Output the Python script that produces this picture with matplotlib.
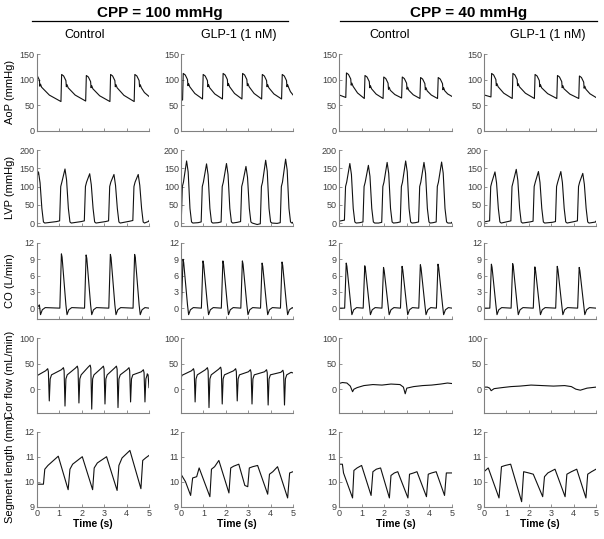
import numpy as np
import matplotlib
matplotlib.use("Agg")
import matplotlib.pyplot as plt

plt.rcParams['font.family'] = ['Liberation Sans', 'DejaVu Sans']

# ---- data ------------------------------------------------------------------
groups = ["CPP = 100 mmHg", "CPP = 40 mmHg"]
conditions = ["Control", "GLP-1 (1 nM)", "Control", "GLP-1 (1 nM)"]
row_labels = ["AoP (mmHg)", "LVP (mmHg)", "CO (L/min)", "Cor flow (mL/min)",
              "Segment length (mm)"]

# aortic upstroke time of each beat (s), per panel column
onsets = [
    [-0.10, 1.08, 2.18, 3.26, 4.34],
    [0.07, 0.96, 1.85, 2.72, 3.60, 4.49],
    [0.30, 1.12, 1.95, 2.77, 3.58, 4.36],
    [0.31, 1.26, 2.25, 3.25, 4.23],
]

# AoP: systolic peak and end-diastolic value before each upstroke
aop_peak = [[111, 110, 108, 110, 110],
            [112, 110, 112, 112, 110, 110],
            [113, 108, 105, 105, 104, 104],
            [112, 112, 110, 108, 107]]
aop_dia = [[112, 57, 58, 57, 57],
           [60, 62, 62, 62, 62, 62],
           [65, 63, 63, 64, 63, 63],
           [66, 63, 63, 63, 63]]
aop_start = [108, 60, 70, 70]
aop_end = [67, 70, 67, 65]

# LVP: systolic peak, end-diastolic value
lvp_peak = [[140, 148, 135, 133, 133],
            [170, 162, 163, 155, 172, 175],
            [163, 158, 166, 170, 166, 167],
            [140, 147, 141, 141, 136]]
lvp_edp = [[6, 6, 6, 6, 7],
           [2, 3, 3, 4, -2, 1],
           [8, 3, 2, 3, 3, 3],
           [6, 6, 5, 4, 6]]
lvp_start = [118, 2, 5, 3]
lvp_end = [7, 2, 2, 5]

# CO: peak of each ejection spike
co_peak = [[10.3, 10.0, 9.8, 9.9, 9.9],
           [9.0, 8.7, 8.7, 8.7, 8.3, 8.5],
           [8.3, 7.8, 7.5, 7.7, 8.0, 8.1],
           [8.1, 8.2, 7.6, 7.7, 7.5]]

# Coronary flow at CPP 100: systolic drop times, minima, pre-drop highs
cor_drop_t = [[0.52, 1.22, 1.84, 2.41, 3.00, 3.58, 4.14, 4.78],
              [0.59, 1.21, 1.80, 2.47, 3.13, 3.85, 4.58]]
cor_drop_min = [[-23, -33, -27, -39, -29, -36, -25, -25],
                [-25, -36, -29, -23, -29, -31, -31]]
cor_drop_hi = [[40, 42, 45, 47, 45, 45, 42, 38],
               [40, 42, 43, 40, 38, 38, 37]]
cor_start = [28, 20]
cor_end = [3, 32]

# Coronary flow at CPP 40: traced vertices
cor40_t = [
    [0, 0.15, 0.35, 0.5, 0.6, 0.66, 0.8, 1.1, 1.5, 1.9, 2.3, 2.7, 2.85, 2.93,
     3.0, 3.3, 3.7, 4.1, 4.5, 4.8, 5.0],
    [0, 0.15, 0.25, 0.32, 0.45, 0.8, 1.2, 1.6, 2.1, 2.6, 3.1, 3.6, 3.9, 4.1,
     4.3, 4.6, 5.0],
]
cor40_v = [
    [11, 13, 12, 6, -5, 0, 3, 7, 9, 8, 10, 9, 4, -9, 2, 5, 7, 8, 10, 12, 11],
    [4, 4, 2, -3, 1, 3, 5, 6, 8, 7, 6, 7, 5, 0, -2, 2, 4],
]

# Segment length: traced vertices
seg_t = [
    [0, 0.3, 0.36, 0.5, 0.96, 1.4, 1.48, 1.6, 2.03, 2.49, 2.56, 2.7, 3.11,
     3.58, 3.66, 3.8, 4.15, 4.64, 4.72, 4.85, 5.0],
    [0, 0.2, 0.43, 0.52, 0.7, 0.81, 1.29, 1.36, 1.5, 1.69, 2.14, 2.22, 2.35,
     2.58, 2.85, 2.98, 3.05, 3.2, 3.42, 3.87, 3.95, 4.1, 4.31, 4.76, 4.85, 5.0],
    [0, 0.15, 0.2, 0.6, 0.66, 0.8, 1.0, 1.42, 1.5, 1.65, 1.84, 2.23, 2.3,
     2.45, 2.6, 3.05, 3.12, 3.3, 3.45, 3.87, 3.95, 4.1, 4.3, 4.67, 4.75, 5.0],
    [0, 0.19, 0.67, 0.78, 0.95, 1.19, 1.68, 1.77, 2.0, 2.2, 2.62, 2.7, 2.85,
     3.17, 3.62, 3.7, 3.9, 4.14, 4.55, 4.63, 4.8, 5.0],
]
seg_v = [
    [9.9, 9.9, 10.5, 10.65, 11.02, 9.68, 10.5, 10.7, 11.0, 9.68, 10.55,
     10.75, 11.0, 9.65, 10.65, 10.95, 11.25, 9.72, 10.85, 10.95, 11.05],
    [10.3, 10.0, 9.45, 10.15, 10.2, 10.55, 9.4, 10.5, 10.6, 10.85, 9.55,
     10.55, 10.62, 10.7, 9.85, 9.8, 10.55, 10.6, 10.65, 9.5, 10.3, 10.4,
     10.6, 9.35, 10.35, 10.4],
    [10.7, 10.7, 10.35, 9.35, 10.45, 10.55, 10.65, 9.45, 10.4, 10.5, 10.55,
     9.35, 10.25, 10.35, 10.4, 9.35, 10.3, 10.35, 10.4, 9.4, 10.3, 10.35,
     10.4, 9.45, 10.35, 10.35],
    [10.4, 10.55, 9.35, 10.6, 10.65, 10.7, 9.2, 10.4, 10.35, 10.3, 9.4,
     10.2, 10.35, 10.5, 9.4, 10.3, 10.4, 10.5, 9.35, 10.3, 10.4, 10.5],
]

row_ylim = [(0, 150), (-7, 200), (-2, 12), (-46, 100), (9, 12)]
row_yticks = [[0, 50, 100, 150], [0, 50, 100, 150, 200], [0, 3, 6, 9, 12],
              [0, 50, 100], [9, 10, 11, 12]]


# ---- beat builders (vertices only) ------------------------------------------
def aop_trace(c):
    t, y = [], []
    ons = onsets[c]
    if ons[0] > 0:
        t.append(0); y.append(aop_start[c])
    for i, t0 in enumerate(ons):
        P, D = aop_peak[c][i], aop_dia[c][i]
        t1 = ons[i + 1] if i + 1 < len(ons) else 5.0
        D1 = aop_dia[c][i + 1] if i + 1 < len(ons) else aop_end[c]
        n = P - 26
        t += [t0, t0 + 0.03, t0 + 0.12, t0 + 0.22, t0 + 0.24, t0 + 0.27, t0 + 0.32]
        y += [D, P, P - 3, P - 12, P - 24, P - 20, n]
        tm = t0 + 0.32 + 0.4 * (t1 - t0 - 0.32)
        t.append(tm); y.append(n - 0.55 * (n - D1))
    t.append(5.0); y.append(aop_end[c])
    return t, y


def lvp_trace(c):
    t, y = [], []
    ons = onsets[c]
    if ons[0] > 0:
        t.append(0); y.append(lvp_start[c])
    for i, t0 in enumerate(ons):
        P, E = lvp_peak[c][i], lvp_edp[c][i]
        t += [t0 - 0.06, t0 - 0.01, t0 + 0.04, t0 + 0.18, t0 + 0.25, t0 + 0.33,
              t0 + 0.40, t0 + 0.46]
        y += [E, 100, 112, P, P - 30, 40, 3, 0]
        t1 = ons[i + 1] if i + 1 < len(ons) else 5.2
        E1 = lvp_edp[c][i + 1] if i + 1 < len(ons) else lvp_end[c]
        t.append(t1 - 0.2); y.append(E1 - 2)
    t.append(5.0); y.append(lvp_end[c])
    return t, y


def co_trace(c):
    t, y = [0], [0]
    for i, t0 in enumerate(onsets[c]):
        P = co_peak[c][i]
        t += [t0 - 0.05, t0 + 0.02, t0 + 0.05, t0 + 0.22, t0 + 0.27, t0 + 0.35,
              t0 + 0.48]
        y += [0, P, P - 0.6, 0.6, -1.2, -0.3, 0.1]
    t.append(5.0); y.append(0)
    order = np.argsort(t, kind="stable")
    return list(np.array(t)[order]), list(np.array(y)[order])


def cor_trace(c):
    t, y = [0], [cor_start[c]]
    t.append(0.04); y.append(27)
    for td, lo, hi in zip(cor_drop_t[c], cor_drop_min[c], cor_drop_hi[c]):
        t += [td - 0.12, td - 0.03, td, td + 0.04, td + 0.08, td + 0.14]
        y += [hi - 4, hi, hi - 6, lo, 20, 28]
    t += [4.92, 4.96, 5.0]
    y += [30, 28, cor_end[c]] if c == 0 else [33, 32, cor_end[c]]
    return t, y


# ---- figure ----------------------------------------------------------------
W, H = 604, 539
fig = plt.figure(figsize=(W / 100, H / 100), dpi=100)

col_x = [(36.7, 149), (181, 293), (339, 452), (484, 596)]
row_y = [(54, 130.7), (150, 225.6), (243, 319), (338, 412.7), (431.7, 506.7)]
grey = "#808080"

for r in range(5):
    for c in range(4):
        x0, x1 = col_x[c]
        yt, yb = row_y[r]
        ax = fig.add_axes([x0 / W, 1 - yb / H, (x1 - x0) / W, (yb - yt) / H])
        if r == 0:
            tt, yy = aop_trace(c)
        elif r == 1:
            tt, yy = lvp_trace(c)
        elif r == 2:
            tt, yy = co_trace(c)
        elif r == 3:
            tt, yy = cor_trace(c) if c < 2 else (cor40_t[c - 2], cor40_v[c - 2])
        else:
            tt, yy = seg_t[c], seg_v[c]
        ax.plot(tt, yy, color="#111111", lw=0.8)
        ax.set_xlim(0, 5)
        ax.set_ylim(*row_ylim[r])
        ax.set_yticks(row_yticks[r])
        ax.set_xticks(range(6))
        for s in ["top", "right"]:
            ax.spines[s].set_visible(False)
        for s in ["left", "bottom"]:
            ax.spines[s].set_color(grey)
            ax.spines[s].set_linewidth(0.8)
        ax.tick_params(direction="in", length=2, width=0.6, color=grey,
                       labelsize=6.5, labelcolor="#404040", pad=1.5)
        if r < 4:
            ax.set_xticklabels([])
        else:
            ax.set_xlabel("Time (s)", fontsize=7.5, fontweight="bold", labelpad=1)

for r in range(5):
    yt, yb = row_y[r]
    fig.text(10 / W, 1 - (yt + yb) / 2 / H, row_labels[r], rotation=90,
             ha="center", va="center", fontsize=8)

# headers
for g, (xa, xb) in enumerate([(32, 288), (340, 597)]):
    fig.text((xa + xb) / 2 / W, 1 - 12.5 / H, groups[g], ha="center",
             va="center", fontsize=11, fontweight="bold")
    fig.add_artist(plt.Line2D([xa / W, xb / W], [1 - 20.7 / H] * 2,
                              color="black", lw=0.9))

cond_x = [85, 239, 390, 548]
for c in range(4):
    fig.text(cond_x[c] / W, 1 - 34.5 / H, conditions[c], ha="center",
             va="center", fontsize=9)

fig.savefig("out.png", dpi=100)
